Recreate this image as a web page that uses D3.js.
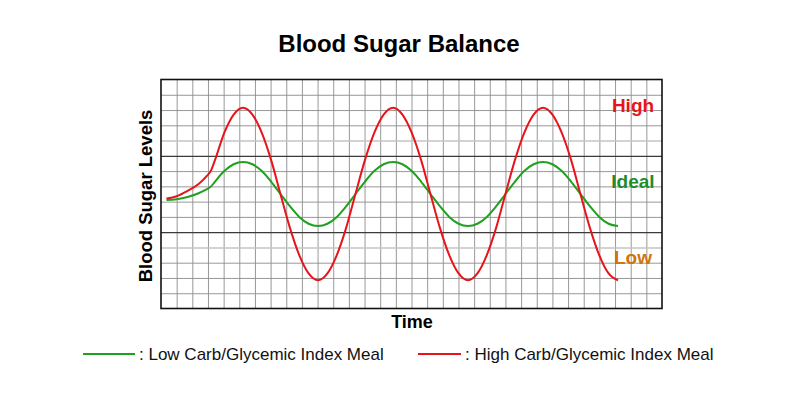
<!DOCTYPE html>
<html>
<head>
<meta charset="utf-8">
<script src="https://cdn.jsdelivr.net/npm/d3@7"></script>
<style>
  body { margin: 0; background: #fff; }
  svg { display: block; }
  text { font-family: "Liberation Sans", Arial, sans-serif; }
</style>
</head>
<body>
<svg width="800" height="398"></svg>
<script>
// time in grid columns, level in grid rows
const time = [0.35, 1.0, 1.7, 2.4, 2.9, 3.2,
  3.44, 4.04, 4.64, 5.24, 5.84, 6.44, 7.04, 7.63, 8.23, 8.83, 9.43, 10.03, 10.63, 11.23, 11.83, 12.42,
  13.02, 13.62, 14.22, 14.82, 15.42, 16.02, 16.62, 17.21, 17.81, 18.41, 19.01, 19.61, 20.21, 20.81, 21.41, 22.0,
  22.6, 23.2, 23.8, 24.4, 25.0, 25.6, 26.2, 26.79, 27.39, 27.99, 28.59, 29.19];

const highCarb = [7.2, 7.35, 7.7, 8.15, 8.65, 9.05,
  9.7, 11.5, 12.7, 13.15, 12.7, 11.5, 9.7, 7.5, 5.3, 3.5, 2.3, 1.85, 2.3, 3.5, 5.3, 7.5,
  9.7, 11.5, 12.7, 13.15, 12.7, 11.5, 9.7, 7.5, 5.3, 3.5, 2.3, 1.85, 2.3, 3.5, 5.3, 7.5,
  9.7, 11.5, 12.7, 13.15, 12.7, 11.5, 9.7, 7.5, 5.3, 3.5, 2.3, 1.85];

const lowCarb = [7.1, 7.15, 7.3, 7.55, 7.8, 8.0,
  8.3, 9.0, 9.45, 9.6, 9.45, 9.0, 8.3, 7.5, 6.7, 6.0, 5.55, 5.4, 5.55, 6.0, 6.7, 7.5,
  8.3, 9.0, 9.45, 9.6, 9.45, 9.0, 8.3, 7.5, 6.7, 6.0, 5.55, 5.4, 5.55, 6.0, 6.7, 7.5,
  8.3, 9.0, 9.45, 9.6, 9.45, 9.0, 8.3, 7.5, 6.7, 6.0, 5.55, 5.4];

const zones = [
  { label: "High", level: 12.9, color: "#e8141c" },
  { label: "Ideal", level: 7.9, color: "#1f8c2c" },
  { label: "Low", level: 2.9, color: "#d0750c" }
];
const zoneBounds = [5, 10];

const legendItems = [
  { label: ": Low Carb/Glycemic Index Meal", color: "#1fa01f" },
  { label: ": High Carb/Glycemic Index Meal", color: "#e8141c" }
];

const svg = d3.select("svg");

const plotLeft = 161, plotRight = 662, plotTop = 79.5, plotBottom = 308.5;

const x = d3.scaleLinear().domain([0, 32]).range([plotLeft, plotRight]);
const y = d3.scaleLinear().domain([0, 15]).range([plotBottom, plotTop]);

// grid
svg.append("g")
  .attr("transform", `translate(0,${plotBottom})`)
  .call(d3.axisBottom(x).tickValues(d3.range(1, 32)).tickSize(-(plotBottom - plotTop)).tickFormat(""))
  .call(g => g.select(".domain").remove())
  .call(g => g.selectAll("line").attr("stroke", "#8c8c8c").attr("stroke-width", 0.9));

svg.append("g")
  .attr("transform", `translate(${plotLeft},0)`)
  .call(d3.axisLeft(y).tickValues(d3.range(1, 15)).tickSize(-(plotRight - plotLeft)).tickFormat(""))
  .call(g => g.select(".domain").remove())
  .call(g => g.selectAll("line")
    .attr("stroke", d => zoneBounds.includes(d) ? "#3a3a3a" : (d === 4 || d === 11) ? "#c4c4c4" : "#8c8c8c")
    .attr("stroke-width", d => zoneBounds.includes(d) ? 1.3 : (d === 4 || d === 11) ? 1.6 : 0.9));

svg.append("rect")
  .attr("x", plotLeft).attr("y", plotTop)
  .attr("width", plotRight - plotLeft).attr("height", plotBottom - plotTop)
  .attr("fill", "none").attr("stroke", "#111").attr("stroke-width", 1.6);

// curves
const line = d3.line()
  .x(d => x(d[0]))
  .y(d => y(d[1]))
  .curve(d3.curveMonotoneX);

svg.append("path")
  .datum(time.map((t, i) => [t, lowCarb[i]]))
  .attr("d", line)
  .attr("fill", "none").attr("stroke", "#1fa01f").attr("stroke-width", 2);

svg.append("path")
  .datum(time.map((t, i) => [t, highCarb[i]]))
  .attr("d", line)
  .attr("fill", "none").attr("stroke", "#e8141c").attr("stroke-width", 2);

// zone labels
svg.selectAll(".zone")
  .data(zones)
  .join("text")
  .attr("class", "zone")
  .attr("x", 633)
  .attr("y", d => y(d.level))
  .attr("text-anchor", "middle")
  .attr("font-size", "19px")
  .attr("font-weight", "bold")
  .attr("fill", d => d.color)
  .text(d => d.label);

// titles
svg.append("text")
  .attr("x", 399).attr("y", 52)
  .attr("text-anchor", "middle")
  .attr("font-size", "24px").attr("font-weight", "bold")
  .attr("fill", "#000")
  .text("Blood Sugar Balance");

svg.append("text")
  .attr("x", 412).attr("y", 328)
  .attr("text-anchor", "middle")
  .attr("font-size", "18px").attr("font-weight", "bold")
  .attr("fill", "#000")
  .text("Time");

svg.append("text")
  .attr("transform", `translate(152,${(plotTop + plotBottom) / 2 + 2}) rotate(-90)`)
  .attr("text-anchor", "middle")
  .attr("font-size", "18.5px").attr("font-weight", "bold")
  .attr("fill", "#000")
  .text("Blood Sugar Levels");

// legend
const legendX = [83, 418];
const legend = svg.selectAll(".legend")
  .data(legendItems)
  .join("g")
  .attr("class", "legend")
  .attr("transform", (d, i) => `translate(${legendX[i]},354)`);

legend.append("line")
  .attr("x1", 0).attr("x2", (d, i) => i === 0 ? 52 : 43)
  .attr("stroke", d => d.color).attr("stroke-width", 2);

legend.append("text")
  .attr("x", (d, i) => i === 0 ? 56 : 47)
  .attr("y", 6)
  .attr("font-size", "17px")
  .attr("fill", "#111")
  .text(d => d.label);
</script>
</body>
</html>
